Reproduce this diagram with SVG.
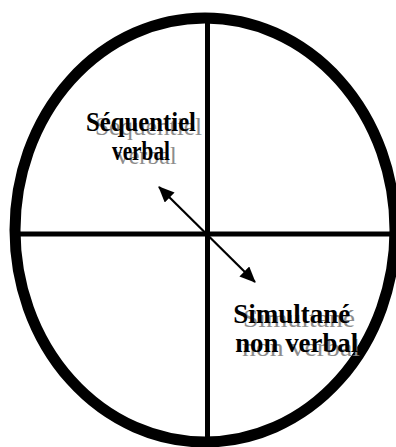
<svg xmlns="http://www.w3.org/2000/svg" width="396" height="447" viewBox="0 0 396 447">
<style>
text{font-family:'Liberation Serif','Times New Roman',serif;text-anchor:middle}
.blk{font-weight:bold;fill:#000;font-size:27px}
.sh{font-weight:normal;fill:#8c8c8c;font-size:26px}
.axis{stroke:#000;stroke-width:5;fill:none}
.arr{stroke:#000;stroke-width:2.2;fill:none}
</style>
<defs>
<marker id="ah" viewBox="0 0 16 14" refX="15" refY="7" markerWidth="16" markerHeight="14" markerUnits="userSpaceOnUse" orient="auto-start-reverse">
<path d="M0,0 L16,7 L0,14 Z" fill="#000"/>
</marker>
</defs>
<rect width="396" height="447" fill="#fff"/>
<g id="quadrants">
<line class="axis" x1="16" y1="234" x2="394" y2="234"/>
<line class="axis" x1="207.5" y1="18" x2="207.5" y2="442"/>
</g>
<g id="outline">
<ellipse cx="205" cy="230" rx="190" ry="212" fill="none" stroke="#000" stroke-width="11"/>
</g>
<g id="connectors">
<line class="arr" x1="159" y1="187" x2="255" y2="282" marker-start="url(#ah)" marker-end="url(#ah)"/>
</g>
<g id="sequentiel-verbal">
<text class="sh" x="148.5" y="135" textLength="107" lengthAdjust="spacingAndGlyphs">Séquentiel</text>
<text class="sh" x="146.7" y="164" textLength="60" lengthAdjust="spacingAndGlyphs">verbal</text>
<text class="blk" x="141" y="131" textLength="110" lengthAdjust="spacingAndGlyphs">Séquentiel</text>
<text class="blk" x="141" y="160" textLength="58" lengthAdjust="spacingAndGlyphs">verbal</text>
</g>
<g id="simultane-non-verbal">
<text class="sh" x="299" y="327" textLength="112" lengthAdjust="spacingAndGlyphs">Simultané</text>
<text class="sh" x="301" y="356" textLength="118" lengthAdjust="spacingAndGlyphs">non verbal</text>
<text class="blk" x="291.7" y="323" textLength="117" lengthAdjust="spacingAndGlyphs">Simultané</text>
<text class="blk" x="296.7" y="352" textLength="123" lengthAdjust="spacingAndGlyphs">non verbal</text>
</g>
</svg>
